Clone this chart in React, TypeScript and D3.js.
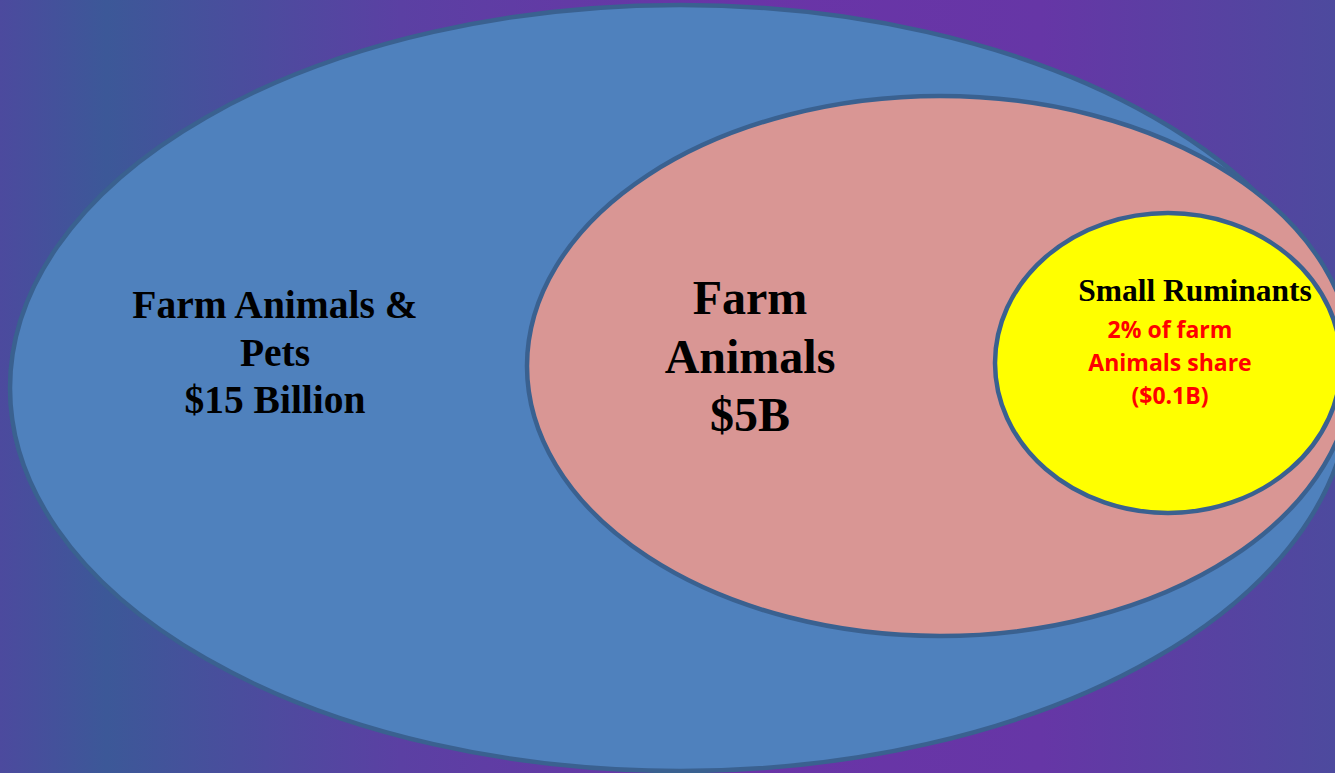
import React from "react";
import * as d3 from "d3";

// market segments, outermost first
const segments = ["Farm Animals & Pets", "Farm Animals", "Small Ruminants"];
const values = [15, 5, 0.1];
const titleLines = [
  ["Farm Animals &", "Pets", "$15 Billion"],
  ["Farm", "Animals", "$5B"],
  ["Small Ruminants"],
];
const noteLines = ["2% of farm", "Animals share", "($0.1B)"];

const width = 1335;
const height = 773;

// ellipse layout (px), kept apart from the data
const shapes = [
  { cx: 680, cy: 388, rx: 670, ry: 383, fill: "#4f81bd" },
  { cx: 940, cy: 366, rx: 413, ry: 270, fill: "#d99694" },
  { cx: 1168, cy: 363, rx: 173, ry: 150, fill: "#ffff00" },
];
const labelPos = [
  { x: 275, y: 318, size: 39.5, lh: 47.5 },
  { x: 750, y: 314, size: 48, lh: 58.5 },
  { x: 1195, y: 301, size: 31.5, lh: 30 },
];

const App = () => {
  const stroke = "#3a6190";
  const share = d3.format(".0%")(values[2] / values[1]);

  return (
    <svg
      width={width}
      height={height}
      style={{ position: "absolute", left: 0, top: 0, display: "block" }}
    >
      <defs>
        <linearGradient id="bg" x1="0" y1="0" x2="1" y2="0">
          <stop offset="0%" stopColor="#4c4a9e" />
          <stop offset="8%" stopColor="#3c5898" />
          <stop offset="30%" stopColor="#5b40a3" />
          <stop offset="55%" stopColor="#6a34a7" />
          <stop offset="78%" stopColor="#6636a6" />
          <stop offset="100%" stopColor="#4d4a9e" />
        </linearGradient>
      </defs>
      <rect width={width} height={height} fill="url(#bg)" />

      {segments.map((s, i) => (
        <ellipse
          key={s}
          cx={shapes[i].cx}
          cy={shapes[i].cy}
          rx={shapes[i].rx}
          ry={shapes[i].ry}
          fill={shapes[i].fill}
          stroke={stroke}
          strokeWidth={4.5}
        />
      ))}

      {titleLines.map((lines, i) => (
        <text
          key={i}
          x={labelPos[i].x}
          y={labelPos[i].y}
          textAnchor="middle"
          fontFamily="'Liberation Serif', 'Times New Roman', serif"
          fontWeight="bold"
          fontSize={labelPos[i].size}
          fill="#000"
        >
          {lines.map((l, j) => (
            <tspan key={j} x={labelPos[i].x} dy={j === 0 ? 0 : labelPos[i].lh}>
              {l}
            </tspan>
          ))}
        </text>
      ))}

      <text
        x={1170}
        y={338}
        textAnchor="middle"
        fontFamily="'Open Sans', 'Liberation Sans', sans-serif"
        fontWeight="bold"
        fontSize={23}
        fill="#ff0000"
        data-share={share}
      >
        {noteLines.map((l, j) => (
          <tspan key={j} x={1170} dy={j === 0 ? 0 : 33}>
            {l}
          </tspan>
        ))}
      </text>
    </svg>
  );
};

export default App;
